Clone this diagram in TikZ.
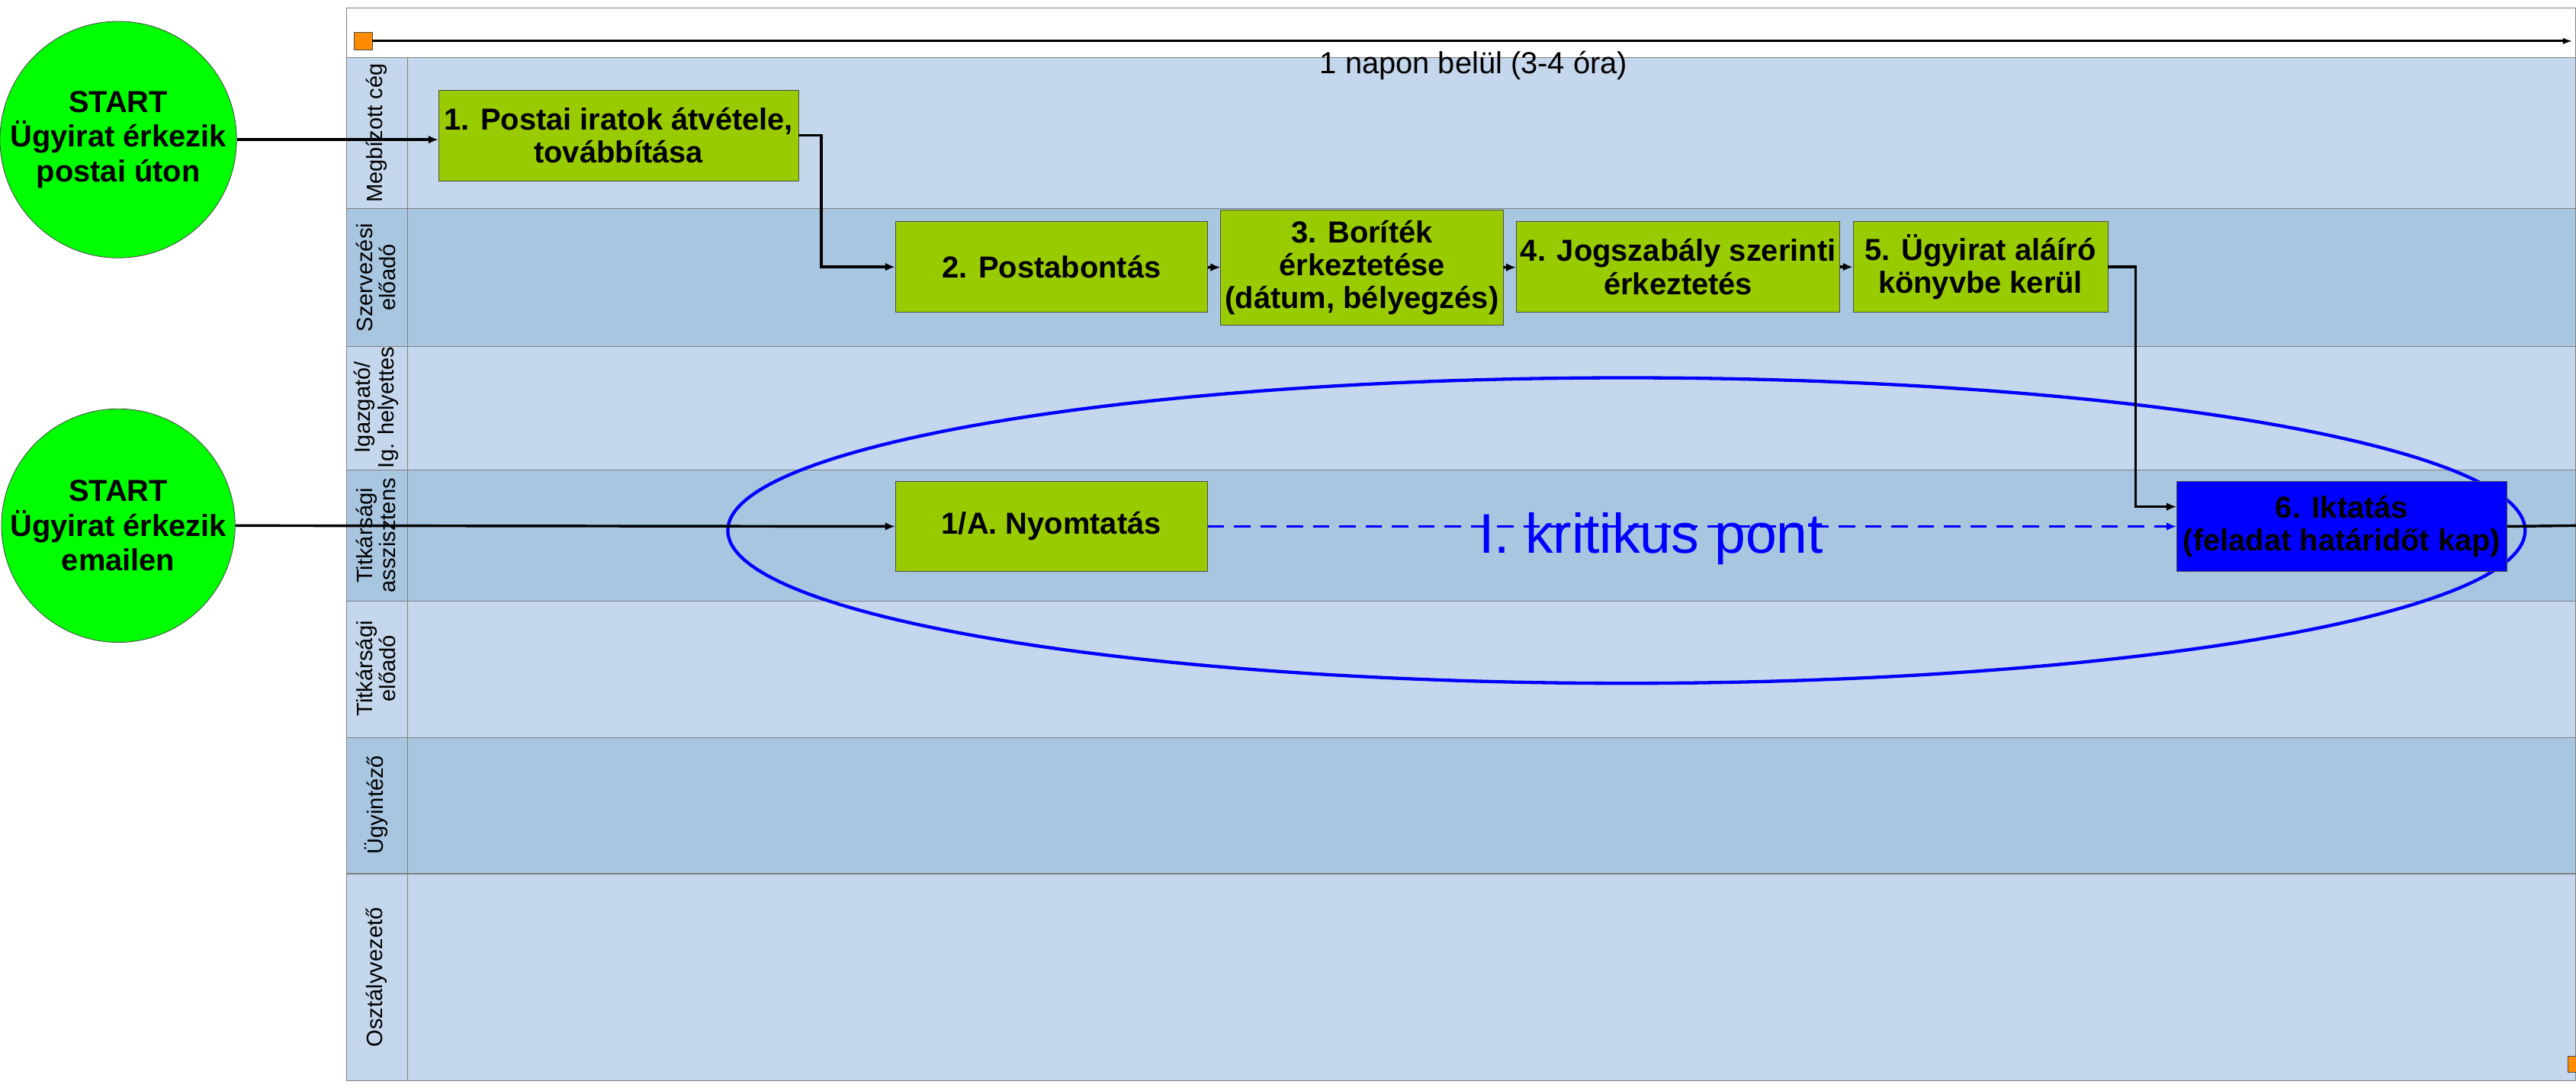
\documentclass[tikz,border=0pt]{standalone}
\usepackage{fontspec}
\setmainfont{Liberation Sans}
\usetikzlibrary{arrows.meta}
\definecolor{lanel}{HTML}{C5D7EC}
\definecolor{laned}{HTML}{A9C6E1}
\definecolor{boxg}{HTML}{99CC00}
\begin{document}
\begin{tikzpicture}[x=1pt,y=-1pt,
  proc/.style={draw=black!70,fill=boxg,font=\fontsize{18.5}{20}\selectfont\bfseries,align=center,inner sep=0pt},
  startc/.style={circle,draw=black!70,fill=green,minimum size=140pt,font=\fontsize{18.5}{21}\selectfont\bfseries,align=center,inner sep=0pt},
  conn/.style={line width=1.6pt,-{Latex[length=6pt,width=5pt]}},
  lanelab/.style={rotate=90,font=\fontsize{13.5}{14}\selectfont,align=center}]
\useasboundingbox (0,0) rectangle (1568,664);
\fill[white] (0,0) rectangle (1568,664);
% pool
\fill[white] (211,5) rectangle (1568,35);
\foreach \a/\b/\c in {35/127/lanel,127/211/laned,211/286/lanel,286/366/laned,366/449/lanel,449/532/laned,532/658/lanel}
  \fill[\c] (211,\a) rectangle (1568,\b);
\foreach \y in {35,127,211,286,366,449,532}
  \draw[black!50,line width=0.6pt] (211,\y) -- (1568,\y);
\draw[black!50,line width=0.6pt] (211,5) rectangle (1568,658);
\draw[black!50,line width=0.6pt] (248,35) -- (248,658);
% header
\node[draw=black!70,fill=orange!90!yellow,minimum size=11pt,inner sep=0pt] (q1) at (221,25) {};
\coordinate (qe) at (1566,25);
\draw[line width=1.4pt,-{Latex[length=6pt,width=4pt]}] (q1) -- (qe);
\node[font=\fontsize{18.5}{20}\selectfont] (tm) at (897,40) {1 napon belül (3-4 óra)};
\node[draw=black!70,fill=orange!90!yellow,minimum size=10pt,inner sep=0pt] (q2) at (1568,648) {};
% lane labels
\node[lanelab] at (229,81) {Megbízott cég};
\node[lanelab] at (229,169) {Szervezési\\előadó};
\node[lanelab] at (229,248) {Igazgató/\\Ig. helyettes};
\node[lanelab] at (229,326) {Titkársági\\asszisztens};
\node[lanelab] at (229,407) {Titkársági\\előadó};
\node[lanelab] at (229,490) {Ügyintéző};
\node[lanelab] at (229,595) {Osztályvezető};
% ellipse
\draw[blue,line width=2pt] (990,323) ellipse [x radius=547,y radius=93];
% starts
\node[startc] (s1) at (72,85) {START\\Ügyirat érkezik\\postai úton};
\node[startc] (s2) at (72,320) {START\\Ügyirat érkezik\\emailen};
% boxes
\node[proc,minimum width=219pt,minimum height=55pt] (b1) at (376.5,82.5) {1. Postai iratok átvétele,\\továbbítása};
\node[proc,minimum width=190pt,minimum height=55pt] (b2) at (640,162.5) {2. Postabontás};
\node[proc,minimum width=172pt,minimum height=70pt] (b3) at (829,163) {3. Boríték\\érkeztetése\\(dátum, bélyegzés)};
\node[proc,minimum width=197pt,minimum height=55pt] (b4) at (1021.5,162.5) {4. Jogszabály szerinti\\érkeztetés};
\node[proc,minimum width=155pt,minimum height=55pt] (b5) at (1205.5,162.5) {5. Ügyirat aláíró\\könyvbe kerül};
\node[proc,minimum width=190pt,minimum height=55pt] (b1a) at (640,320.5) {1/A. Nyomtatás};
\node[proc,fill=blue,minimum width=201pt,minimum height=55pt] (b6) at (1425.5,320.5) {6. Iktatás\\(feladat határidőt kap)};
\node[blue,font=\fontsize{34}{36}\selectfont] (kp) at (1005,328) {I. kritikus pont};
\coordinate (rend) at (1568,320);
% connectors
\draw[conn] (s1.east) -- (s1.east -| b1.west);
\draw[conn] (b1.east) -- (500,82.5) |- (b2.west);
\draw[conn] (b2) -- (b3);
\draw[conn] (b3) -- (b4);
\draw[conn] (b4) -- (b5);
\draw[conn] (b5.east) -- (1300,162.5) |- ([yshift=12pt]b6.west);
\draw[conn] (s2.east) -- (b1a.west);
\draw[blue,line width=1.6pt,dash pattern=on 10pt off 6pt,-{Latex[length=6pt,width=5pt]}] (b1a.east) -- (b6.west);
\draw[line width=1.6pt] (b6.east) -- (rend);
\end{tikzpicture}
\end{document}
